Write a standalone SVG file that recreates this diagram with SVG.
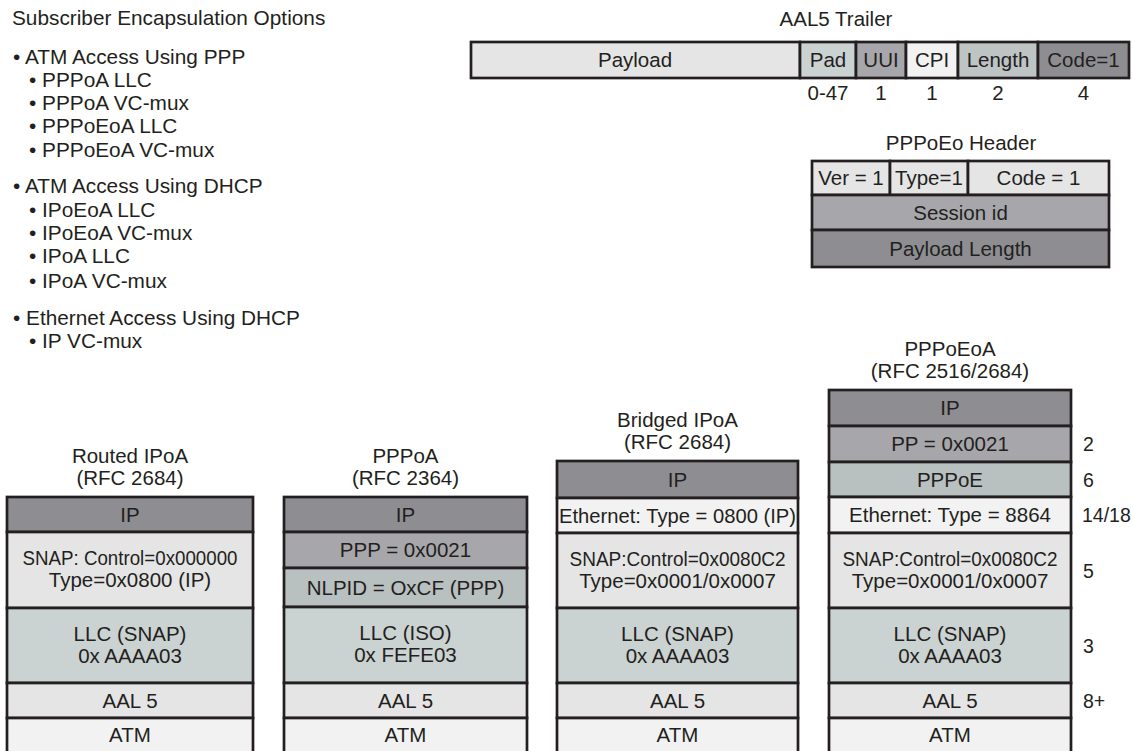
<svg xmlns="http://www.w3.org/2000/svg" width="1133" height="751" viewBox="0 0 1133 751">
<style>
text{font-family:"Liberation Sans",Arial,Helvetica,sans-serif;font-size:20.5px;fill:#231f20}
.l{font-size:20.8px}
.sz{font-size:19.5px}
.c{text-anchor:middle}
.b{stroke:#231f20;stroke-width:2.7}
.ip{fill:#8e8e92}
.pp{fill:#a7a7ab}
.ne{fill:#b9c0c0}
.llc{fill:#cbd2d2}
.snap{fill:#e5e5e5}
.eth{fill:#f2f2f2}
.aal{fill:#e5e5e5}
.atm{fill:#f2f2f2}
.len{fill:#bec4c4}
</style>
<rect width="1133" height="751" fill="#ffffff"/>

<g id="options-list">
<text class="l" x="12" y="25">Subscriber Encapsulation Options</text>
<text class="l" x="13" y="64">• ATM Access Using PPP</text>
<text class="l" x="29" y="87">• PPPoA LLC</text>
<text class="l" x="29" y="110">• PPPoA VC-mux</text>
<text class="l" x="29" y="133">• PPPoEoA LLC</text>
<text class="l" x="29" y="157">• PPPoEoA VC-mux</text>
<text class="l" x="13" y="193">• ATM Access Using DHCP</text>
<text class="l" x="29" y="217">• IPoEoA LLC</text>
<text class="l" x="29" y="240">• IPoEoA VC-mux</text>
<text class="l" x="29" y="263">• IPoA LLC</text>
<text class="l" x="29" y="288">• IPoA VC-mux</text>
<text class="l" x="13" y="325">• Ethernet Access Using DHCP</text>
<text class="l" x="29" y="348">• IP VC-mux</text>
</g>

<g id="aal5-trailer">
<text class="c" x="836" y="26">AAL5 Trailer</text>
<g id="t-payload"><rect class="b aal" x="471" y="42" width="329" height="36"/><text class="c" x="635" y="67">Payload</text></g>
<g id="t-pad"><rect class="b llc" x="800" y="42" width="56" height="36"/><text class="c" x="828" y="67">Pad</text><text class="c" x="828" y="100">0-47</text></g>
<g id="t-uui"><rect class="b pp" x="856" y="42" width="50" height="36"/><text class="c" x="881" y="67">UUI</text><text class="c" x="881" y="100">1</text></g>
<g id="t-cpi"><rect class="b eth" x="906" y="42" width="52" height="36"/><text class="c" x="932" y="67">CPI</text><text class="c" x="932" y="100">1</text></g>
<g id="t-length"><rect class="b len" x="958" y="42" width="80" height="36"/><text class="c" x="998" y="67">Length</text><text class="c" x="998" y="100">2</text></g>
<g id="t-code"><rect class="b ip" x="1038" y="42" width="91" height="36"/><text class="c" x="1083.5" y="67">Code=1</text><text class="c" x="1083.5" y="100">4</text></g>
</g>

<g id="pppoe-header">
<text class="c" x="961" y="150">PPPoEo Header</text>
<g id="h-ver"><rect class="b aal" x="812" y="161" width="78" height="34"/><text class="c" x="851" y="185">Ver = 1</text></g>
<g id="h-type"><rect class="b aal" x="890" y="161" width="78" height="34"/><text class="c" x="929" y="185">Type=1</text></g>
<g id="h-code"><rect class="b aal" x="968" y="161" width="141" height="34"/><text class="c" x="1038.5" y="185">Code = 1</text></g>
<g id="h-session"><rect class="b pp" x="812" y="195" width="297" height="35"/><text class="c" x="960.5" y="220">Session id</text></g>
<g id="h-paylen"><rect class="b ip" x="812" y="230" width="297" height="37"/><text class="c" x="960.5" y="256">Payload Length</text></g>
</g>

<g id="stack-routed-ipoa">
<text class="c" x="130" y="463">Routed IPoA</text>
<text class="c" x="130" y="485">(RFC 2684)</text>
<g id="s1-ip"><rect class="b ip" x="7" y="497" width="246" height="35"/><text class="c" x="130" y="522">IP</text></g>
<g id="s1-snap"><rect class="b snap" x="7" y="532" width="246" height="76"/><text class="c" x="130" y="565" textLength="215" lengthAdjust="spacingAndGlyphs">SNAP: Control=0x000000</text><text class="c" x="130" y="587">Type=0x0800 (IP)</text></g>
<g id="s1-llc"><rect class="b llc" x="7" y="608" width="246" height="75"/><text class="c" x="130" y="640.5">LLC (SNAP)</text><text class="c" x="130" y="662.5">0x AAAA03</text></g>
<g id="s1-aal5"><rect class="b aal" x="7" y="683" width="246" height="35"/><text class="c" x="130" y="707.5">AAL 5</text></g>
<g id="s1-atm"><rect class="b atm" x="7" y="718" width="246" height="45"/><text class="c" x="130" y="741.5">ATM</text></g>
</g>

<g id="stack-pppoa">
<text class="c" x="405.5" y="463">PPPoA</text>
<text class="c" x="405.5" y="485">(RFC 2364)</text>
<g id="s2-ip"><rect class="b ip" x="284" y="497" width="243" height="35"/><text class="c" x="405.5" y="522">IP</text></g>
<g id="s2-ppp"><rect class="b pp" x="284" y="532" width="243" height="36"/><text class="c" x="405.5" y="557">PPP = 0x0021</text></g>
<g id="s2-nlpid"><rect class="b ne" x="284" y="568" width="243" height="39"/><text class="c" x="405.5" y="594.5">NLPID = OxCF (PPP)</text></g>
<g id="s2-llc"><rect class="b llc" x="284" y="607" width="243" height="76"/><text class="c" x="405.5" y="640">LLC (ISO)</text><text class="c" x="405.5" y="662">0x FEFE03</text></g>
<g id="s2-aal5"><rect class="b aal" x="284" y="683" width="243" height="35"/><text class="c" x="405.5" y="707.5">AAL 5</text></g>
<g id="s2-atm"><rect class="b atm" x="284" y="718" width="243" height="45"/><text class="c" x="405.5" y="741.5">ATM</text></g>
</g>

<g id="stack-bridged-ipoa">
<text class="c" x="677.5" y="427">Bridged IPoA</text>
<text class="c" x="677.5" y="449">(RFC 2684)</text>
<g id="s3-ip"><rect class="b ip" x="557" y="461" width="241" height="37"/><text class="c" x="677.5" y="486.5">IP</text></g>
<g id="s3-eth"><rect class="b eth" x="557" y="498" width="241" height="35"/><text class="c" x="677.5" y="522.5" textLength="237" lengthAdjust="spacingAndGlyphs">Ethernet: Type = 0800 (IP)</text></g>
<g id="s3-snap"><rect class="b snap" x="557" y="533" width="241" height="75"/><text class="c" x="677.5" y="565.5" textLength="216" lengthAdjust="spacingAndGlyphs">SNAP:Control=0x0080C2</text><text class="c" x="677.5" y="587.5">Type=0x0001/0x0007</text></g>
<g id="s3-llc"><rect class="b llc" x="557" y="608" width="241" height="75"/><text class="c" x="677.5" y="640.5">LLC (SNAP)</text><text class="c" x="677.5" y="662.5">0x AAAA03</text></g>
<g id="s3-aal5"><rect class="b aal" x="557" y="683" width="241" height="35"/><text class="c" x="677.5" y="707.5">AAL 5</text></g>
<g id="s3-atm"><rect class="b atm" x="557" y="718" width="241" height="45"/><text class="c" x="677.5" y="741.5">ATM</text></g>
</g>

<g id="stack-pppoeoa">
<text class="c" x="950" y="356">PPPoEoA</text>
<text class="c" x="950" y="378">(RFC 2516/2684)</text>
<g id="s4-ip"><rect class="b ip" x="829" y="390" width="242" height="36"/><text class="c" x="950" y="415">IP</text></g>
<g id="s4-pp"><rect class="b pp" x="829" y="426" width="242" height="36"/><text class="c" x="950" y="451">PP = 0x0021</text></g>
<g id="s4-pppoe"><rect class="b ne" x="829" y="462" width="242" height="35"/><text class="c" x="950" y="486.5">PPPoE</text></g>
<g id="s4-eth"><rect class="b eth" x="829" y="497" width="242" height="36"/><text class="c" x="950" y="522">Ethernet: Type = 8864</text></g>
<g id="s4-snap"><rect class="b snap" x="829" y="533" width="242" height="75"/><text class="c" x="950" y="565.5" textLength="215" lengthAdjust="spacingAndGlyphs">SNAP:Control=0x0080C2</text><text class="c" x="950" y="587.5">Type=0x0001/0x0007</text></g>
<g id="s4-llc"><rect class="b llc" x="829" y="608" width="242" height="75"/><text class="c" x="950" y="640.5">LLC (SNAP)</text><text class="c" x="950" y="662.5">0x AAAA03</text></g>
<g id="s4-aal5"><rect class="b aal" x="829" y="683" width="242" height="35"/><text class="c" x="950" y="707.5">AAL 5</text></g>
<g id="s4-atm"><rect class="b atm" x="829" y="718" width="242" height="45"/><text class="c" x="950" y="741.5">ATM</text></g>
<g id="s4-sizes">
<text class="sz" x="1083" y="451">2</text>
<text class="sz" x="1083" y="486.5">6</text>
<text class="sz" x="1082" y="522">14/18</text>
<text class="sz" x="1083" y="577.5">5</text>
<text class="sz" x="1083" y="652.5">3</text>
<text class="sz" x="1083" y="707.5">8+</text>
</g>
</g>

<g id="connectors"/>
</svg>
